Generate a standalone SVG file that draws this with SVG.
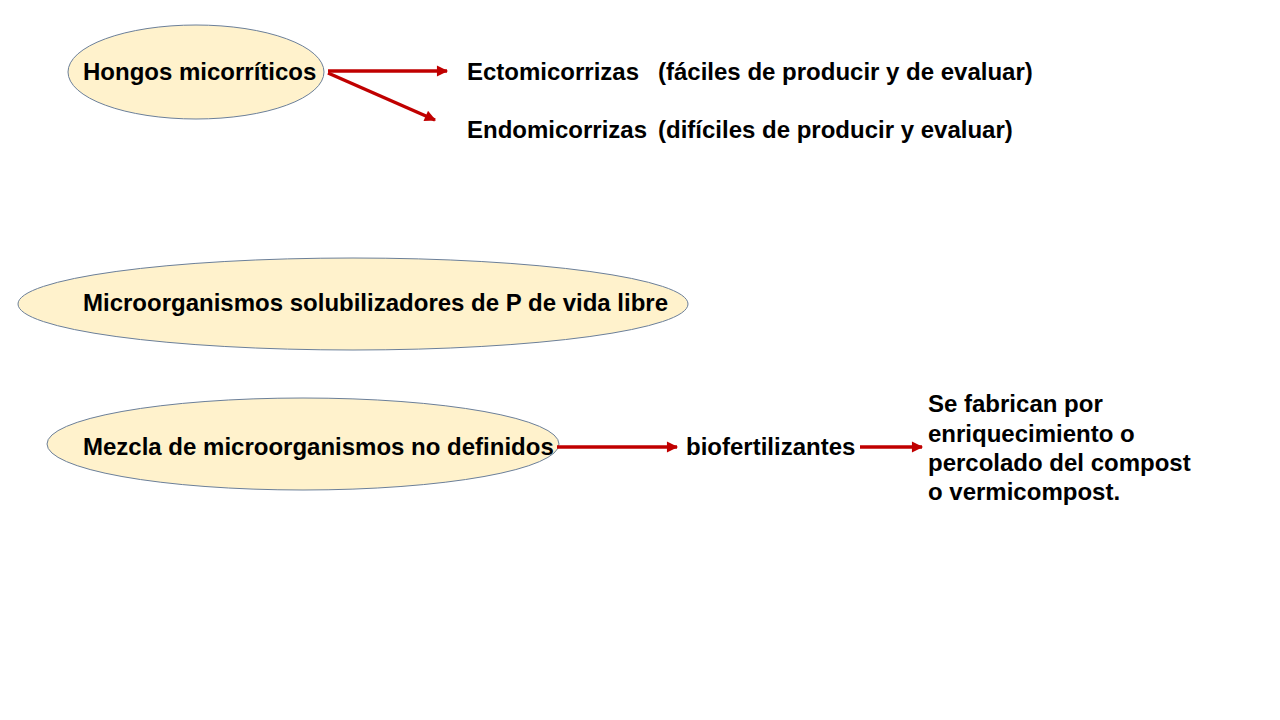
<svg xmlns="http://www.w3.org/2000/svg" width="1280" height="720" viewBox="0 0 1280 720">
<style>
.n{fill:#FFF2CC;stroke:#6B7F99;stroke-width:1}
.t{font-family:"Liberation Sans",Arial,sans-serif;font-weight:bold;font-size:24px;fill:#000}
.c{stroke:#C00000;stroke-width:3.5;fill:none}
</style>
<defs>
<marker id="ah" viewBox="0 0 10 10" refX="9" refY="5" markerWidth="3.6" markerHeight="3.2" orient="auto" markerUnits="strokeWidth">
<path d="M0,0 L10,5 L0,10 z" fill="#C00000"/>
</marker>
</defs>
<rect width="1280" height="720" fill="#fff"/>
<g id="n1"><ellipse class="n" cx="196" cy="72" rx="128" ry="47"/><text class="t" x="83" y="80">Hongos micorríticos</text></g>
<g id="n2"><text class="t" x="467" y="80">Ectomicorrizas</text><text class="t" x="658" y="80">(fáciles de producir y de evaluar)</text></g>
<g id="n3"><text class="t" x="467" y="138">Endomicorrizas</text><text class="t" x="658" y="138">(difíciles de producir y evaluar)</text></g>
<g id="n4"><ellipse class="n" cx="353" cy="304" rx="335" ry="46"/><text class="t" x="83" y="311">Microorganismos solubilizadores de P de vida libre</text></g>
<g id="n5"><ellipse class="n" cx="303" cy="444" rx="256" ry="46"/><text class="t" x="83" y="455">Mezcla de microorganismos no definidos</text></g>
<g id="n6"><text class="t" x="686" y="455">biofertilizantes</text></g>
<g id="n7"><text class="t" x="928" y="412">Se fabrican por</text><text class="t" x="928" y="442">enriquecimiento o</text><text class="t" x="928" y="471">percolado del compost</text><text class="t" x="928" y="500">o vermicompost.</text></g>
<g id="connectors">
<line class="c" x1="328" y1="71" x2="447" y2="71" marker-end="url(#ah)"/>
<line class="c" x1="328" y1="73" x2="435" y2="120" marker-end="url(#ah)"/>
<line class="c" x1="557" y1="447" x2="677" y2="447" marker-end="url(#ah)"/>
<line class="c" x1="860" y1="447" x2="922" y2="447" marker-end="url(#ah)"/>
</g>
</svg>
